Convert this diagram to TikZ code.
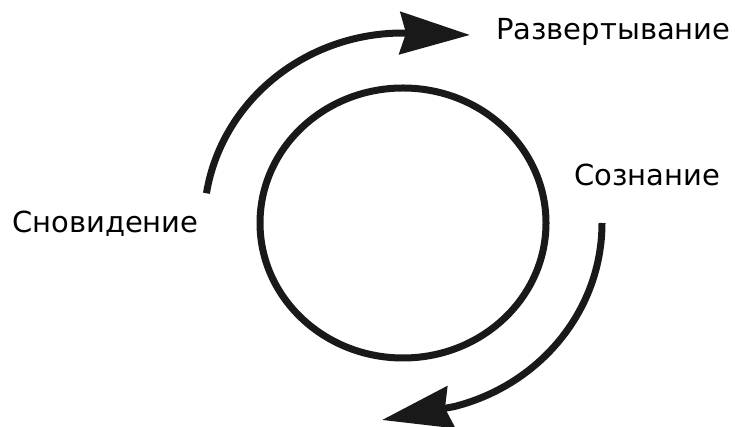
\documentclass[tikz,border=0pt]{standalone}
\usepackage{fontspec}
\setmainfont{DejaVu Sans}
\usetikzlibrary{arrows.meta}
\begin{document}
\begin{tikzpicture}[x=1pt,y=1pt,
  ring/.style={line width=7pt, draw=black!90},
  cyclearrow/.style={line width=7pt, draw=black!90, -{Stealth[length=70pt,width=42pt,inset=6pt]}},
  lbl/.style={anchor=base west, inner sep=0pt, font=\fontsize{29}{33}\selectfont, text=black, draw=none}]
\useasboundingbox (0,0) rectangle (735,427);
\coordinate (c) at (403,204);
\draw[ring] (c) ellipse [x radius=143, y radius=135];
\draw[cyclearrow] (c) ++(171:199 and 190) arc [start angle=171, end angle=91, x radius=199, y radius=190] -- (470,392);
\draw[cyclearrow] (c) ++(0:199 and 190) arc [start angle=0, end angle=-75, x radius=199, y radius=190] -- (382,7);
\node[lbl] (razv) at (496,387) {Развертывание};
\node[lbl] (snov) at (12,194) {Сновидение};
\node[lbl] (soz) at (574,241) {Сознание};
\end{tikzpicture}
\end{document}
